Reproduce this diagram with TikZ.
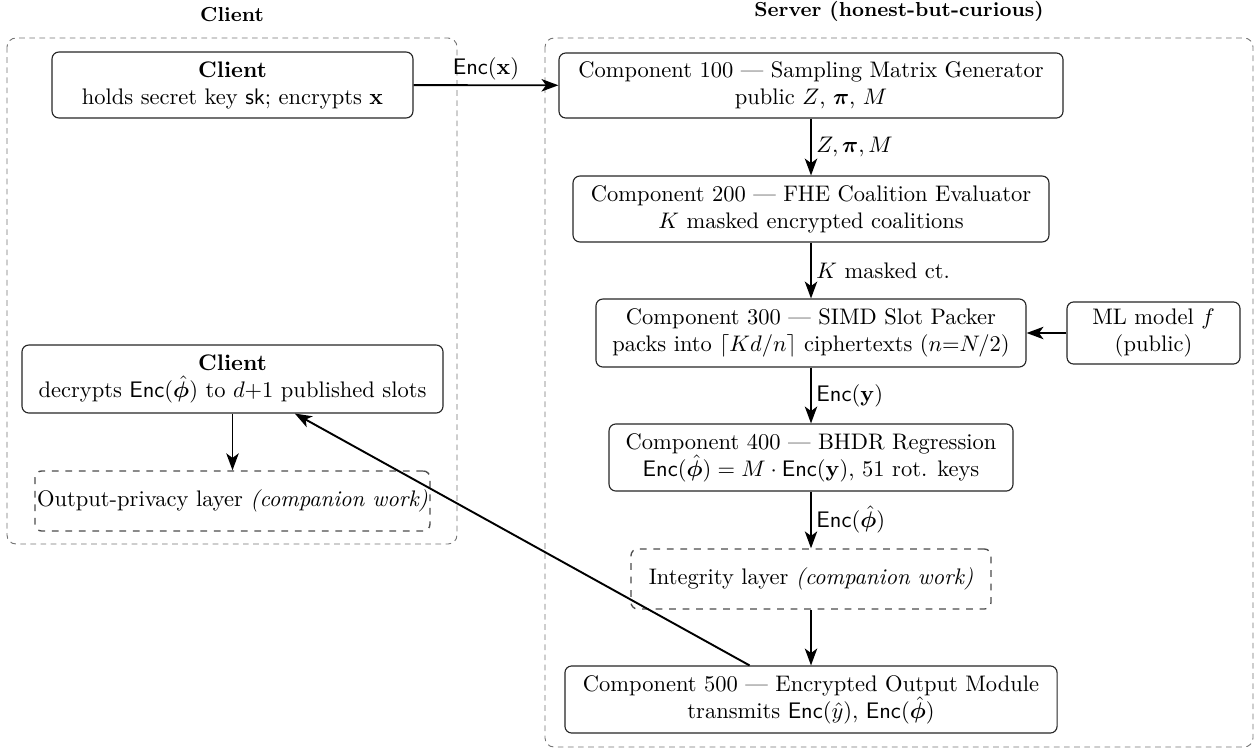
\documentclass[tikz,border=0pt]{standalone}
\usepackage{amsmath,amssymb,bm}
\usetikzlibrary{arrows.meta}
\begin{document}
\begin{tikzpicture}[x=0.4444pt, y=-0.4444pt,
  box/.style={draw=black!85, line width=0.5pt, rounded corners=3pt, align=center, inner sep=0pt, fill=white},
  dbox/.style={box, dashed, draw=black!70, line width=0.6pt},
  zone/.style={draw=black!55, line width=0.4pt, dash pattern=on 2.5pt off 2pt, rounded corners=4pt},
  zonetitle/.style={font=\small\bfseries, anchor=south},
  flow/.style={-{Stealth[length=7.5pt,width=5.5pt,inset=2pt]}, line width=0.85pt},
  elabel/.style={font=\normalsize, inner sep=2pt}
]
\useasboundingbox (0,0) rectangle (1258,749);

% trust zones
\draw[zone] (7,38) rectangle (457,544);
\draw[zone] (545,38) rectangle (1253,747);
\node[zonetitle] (tclient) at (232,30) {Client};
\node[zonetitle] (tserver) at (899,30) {Server (honest-but-curious)};

% client side
\node[box, minimum width=160.4pt, minimum height=29.3pt] (client) at (232.5,85)
  {\textbf{Client}\\ holds secret key $\mathsf{sk}$; encrypts $\mathbf{x}$};
\node[box, minimum width=187.1pt, minimum height=30.2pt] (decrypt) at (232.5,379)
  {\textbf{Client}\\ decrypts $\mathsf{Enc}(\hat{\bm{\phi}})$ to $d{+}1$ published slots};
\node[dbox, minimum width=175.5pt, minimum height=26.7pt] (privacy) at (232.5,501)
  {Output-privacy layer \textit{(companion work)}};

% server pipeline
\node[box, minimum width=224pt, minimum height=28.9pt] (c100) at (811,85.5)
  {Component 100 --- Sampling Matrix Generator\\ public $Z$, $\bm{\pi}$, $M$};
\node[box, minimum width=211.5pt, minimum height=29.3pt] (c200) at (811,209)
  {Component 200 --- FHE Coalition Evaluator\\ $K$ masked encrypted coalitions};
\node[box, minimum width=191.1pt, minimum height=30.2pt] (c300) at (811,333)
  {Component 300 --- SIMD Slot Packer\\ packs into $\lceil Kd/n\rceil$ ciphertexts ($n{=}N/2$)};
\node[box, minimum width=76.9pt, minimum height=27.6pt] (ml) at (1153.5,333)
  {ML model $f$\\ (public)};
\node[box, minimum width=179.5pt, minimum height=29.8pt] (c400) at (811,457.5)
  {Component 400 --- BHDR Regression\\ $\mathsf{Enc}(\hat{\bm{\phi}}) = M\cdot\mathsf{Enc}(\mathbf{y})$, 51 rot. keys};
\node[dbox, minimum width=160pt, minimum height=26.7pt] (integ) at (811,579)
  {Integrity layer \textit{(companion work)}};
\node[box, minimum width=218.7pt, minimum height=29.8pt] (c500) at (811,699.5)
  {Component 500 --- Encrypted Output Module\\ transmits $\mathsf{Enc}(\hat{y})$, $\mathsf{Enc}(\hat{\bm{\phi}})$};

% connectors
\draw[flow] (client) -- node[elabel, above] {$\mathsf{Enc}(\mathbf{x})$} (c100);
\draw[flow] (c100) -- node[elabel, right] {$Z,\bm{\pi},M$} (c200);
\draw[flow] (c200) -- node[elabel, right] {$K$ masked ct.} (c300);
\draw[flow] (ml) -- (c300);
\draw[flow] (c300) -- node[elabel, right] {$\mathsf{Enc}(\mathbf{y})$} (c400);
\draw[flow] (c400) -- node[elabel, right] {$\mathsf{Enc}(\hat{\bm{\phi}})$} (integ);
\draw[flow] (integ) -- (c500);
\draw[flow] (c500) -- (decrypt);
\draw[flow] (decrypt) -- (privacy);
\end{tikzpicture}
\end{document}
